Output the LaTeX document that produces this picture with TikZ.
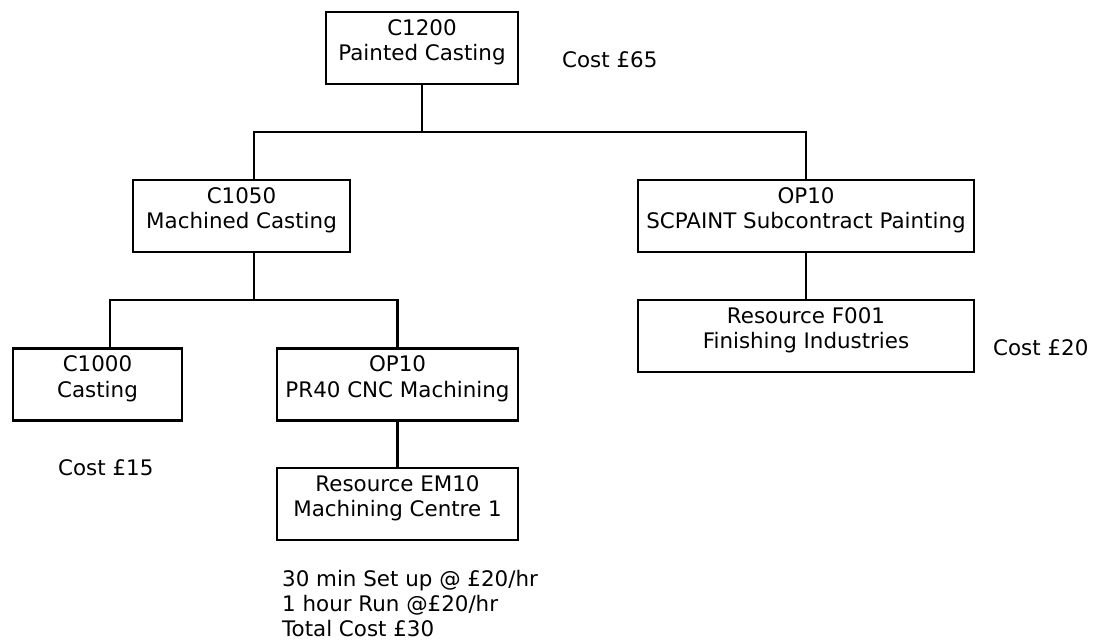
\documentclass[tikz,border=0pt]{standalone}
\usepackage{fontspec}
\setmainfont{DejaVu Sans}
\begin{document}
\begin{tikzpicture}[x=1pt,y=-1pt,
  box/.style={draw=black,line width=2.4pt,inner sep=0pt,minimum height=72pt},
  lbl/.style={anchor=base,inner sep=0pt,font=\fontsize{21.4pt}{25.6pt}\selectfont},
  note/.style={anchor=base west,inner sep=0pt,font=\fontsize{21.4pt}{25.6pt}\selectfont},
  conn/.style={line width=2.4pt}]
\useasboundingbox (0,0) rectangle (1104,641);
% boxes
\node[box,minimum width=192pt] (c1200) at (422,48) {};
\node[box,minimum width=217pt] (c1050) at (241.5,216) {};
\node[box,minimum width=336pt] (op10b) at (806,216) {};
\node[box,minimum width=169pt] (c1000) at (97.5,384.5) {};
\node[box,minimum width=241pt] (op10a) at (397.5,384.5) {};
\node[box,minimum width=241pt] (em10) at (397.5,504) {};
\node[box,minimum width=336pt] (f001) at (806,336) {};
% box texts
\node[lbl] (t1a) at (422,35) {C1200};
\node[lbl] (t1b) at (422,60.7) {Painted Casting};
\node[lbl] (t2a) at (241.5,203) {C1050};
\node[lbl] (t2b) at (241.5,228.7) {Machined Casting};
\node[lbl] (t3a) at (806,203) {OP10};
\node[lbl] (t3b) at (806,228.7) {SCPAINT Subcontract Painting};
\node[lbl] (t4a) at (97.5,371.5) {C1000};
\node[lbl] (t4b) at (97.5,397.2) {Casting};
\node[lbl] (t5a) at (397.5,371.5) {OP10};
\node[lbl] (t5b) at (397.5,397.2) {PR40 CNC Machining};
\node[lbl] (t6a) at (397.5,491) {Resource EM10};
\node[lbl] (t6b) at (397.5,516.7) {Machining Centre 1};
\node[lbl] (t7a) at (806,323) {Resource F001};
\node[lbl] (t7b) at (806,348.7) {Finishing Industries};
% cost notes
\node[note] (n65) at (562,67.3) {Cost £65};
\node[note] (n15) at (58,475) {Cost £15};
\node[note] (n20) at (993,355) {Cost £20};
\node[note] (n30a) at (282,586.7) {30 min Set up @ £20/hr};
\node[note] (n30b) at (282,611.7) {1 hour Run @£20/hr};
\node[note] (n30c) at (282,636.7) {Total Cost £30};
% junctions
\coordinate (j1) at (422,132);
\coordinate (j1l) at (254,132);
\coordinate (j1r) at (806,132);
\coordinate (j2) at (254,300);
\coordinate (j2l) at (110,300);
\coordinate (j2r) at (397.5,300);
% connectors
\draw[conn] (c1200.south) -- (j1);
\draw[conn] (c1050.north -| j1l) -- (j1l) -- (j1r) -- (op10b.north);
\draw[conn] (c1050.south -| j2) -- (j2);
\draw[conn] (c1000.north -| j2l) -- (j2l) -- (j2r) -- (op10a.north);
\draw[conn] (op10a.south) -- (em10.north);
\draw[conn] (op10b.south) -- (f001.north);
\end{tikzpicture}
\end{document}
